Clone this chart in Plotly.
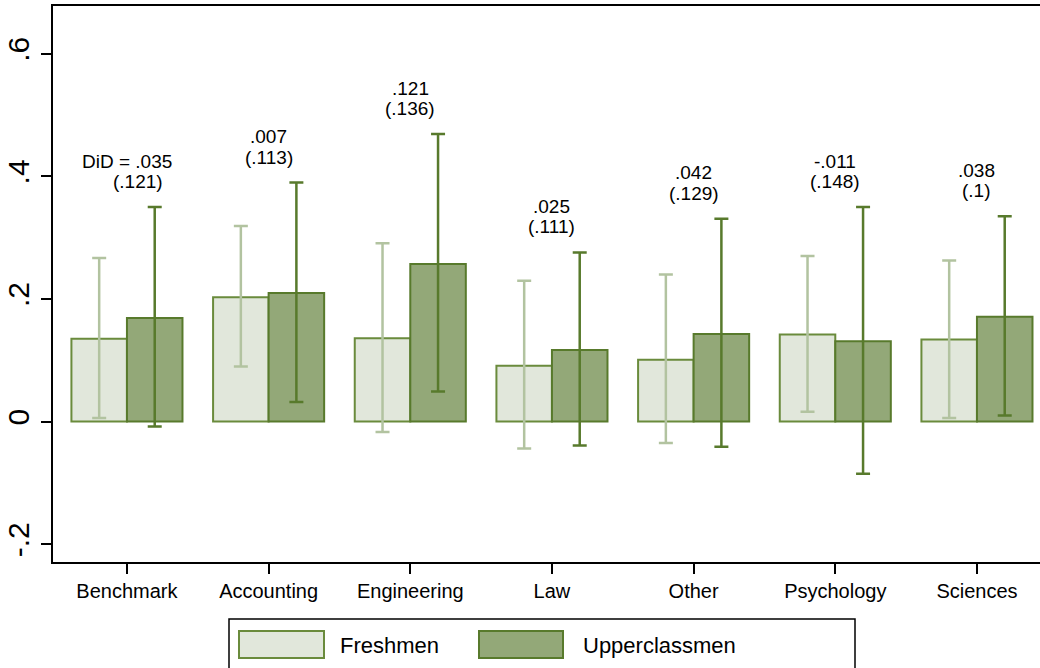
import plotly.graph_objects as go

categories = ["Benchmark", "Accounting", "Engineering", "Law", "Other", "Psychology", "Sciences"]
fresh_mean = [0.135, 0.203, 0.136, 0.091, 0.101, 0.142, 0.134]
fresh_lo = [0.006, 0.090, -0.017, -0.044, -0.035, 0.016, 0.006]
fresh_hi = [0.267, 0.319, 0.291, 0.230, 0.240, 0.270, 0.263]
upper_mean = [0.169, 0.210, 0.257, 0.117, 0.143, 0.131, 0.171]
upper_lo = [-0.008, 0.032, 0.049, -0.039, -0.041, -0.085, 0.010]
upper_hi = [0.350, 0.390, 0.469, 0.276, 0.331, 0.350, 0.335]
did_text = ["DiD = .035", ".007", ".121", ".025", ".042", "-.011", ".038"]
se_text = ["(.121)", "(.113)", "(.136)", "(.111)", "(.129)", "(.148)", "(.1)"]
ytick_vals = [-0.2, 0, 0.2, 0.4, 0.6]
ytick_text = ["-.2", "0", ".2", ".4", ".6"]

FONT = "Liberation Sans, Arial, Helvetica, sans-serif"
FRESH_FILL = "#e1e7db"
FRESH_LINE = "#6a8b3c"
FRESH_CI = "#b2c3a0"
UP_FILL = "#93a878"
UP_LINE = "#587a2c"
UP_CI = "#587a2c"

W, H = 1040, 668
ML, MR, MT, MB = 53, 0, 6, 106

fig = go.Figure()
fig.add_trace(go.Bar(
    x=categories, y=fresh_mean, name="Freshmen",
    marker=dict(color=FRESH_FILL, line=dict(color=FRESH_LINE, width=2)),
    error_y=dict(type="data", symmetric=False,
                 array=[h - m for h, m in zip(fresh_hi, fresh_mean)],
                 arrayminus=[m - l for l, m in zip(fresh_lo, fresh_mean)],
                 color=FRESH_CI, thickness=2.5, width=7),
))
fig.add_trace(go.Bar(
    x=categories, y=upper_mean, name="Upperclassmen",
    marker=dict(color=UP_FILL, line=dict(color=UP_LINE, width=2)),
    error_y=dict(type="data", symmetric=False,
                 array=[h - m for h, m in zip(upper_hi, upper_mean)],
                 arrayminus=[m - l for l, m in zip(upper_lo, upper_mean)],
                 color=UP_CI, thickness=2.5, width=7),
))

annotations = []
for i, cat in enumerate(categories):
    top = max(fresh_hi[i], upper_hi[i])
    annotations.append(dict(x=cat, y=top, text=did_text[i], showarrow=False,
                            yanchor="middle", yshift=46, xanchor="center",
                            font=dict(family=FONT, size=19, color="black")))
    annotations.append(dict(x=cat, y=top, text=se_text[i], showarrow=False,
                            yanchor="middle", yshift=25.5, xanchor="center",
                            xshift=11 if i == 0 else 0,
                            font=dict(family=FONT, size=19, color="black")))

# manual legend (pixel -> paper conversion)
PW = W - ML - MR
PH = H - MT - MB
def px(x):
    return (x - ML) / PW
def py(y):
    return (H - MB - y) / PH

shapes = [
    dict(type="rect", xref="paper", yref="paper", x0=px(229), x1=px(855), y0=py(675), y1=py(619),
         line=dict(color="black", width=1.5), fillcolor="white", layer="above"),
    dict(type="rect", xref="paper", yref="paper", x0=px(239), x1=px(324), y0=py(658), y1=py(631),
         line=dict(color=FRESH_LINE, width=2), fillcolor=FRESH_FILL, layer="above"),
    dict(type="rect", xref="paper", yref="paper", x0=px(479), x1=px(563), y0=py(658), y1=py(631),
         line=dict(color=UP_LINE, width=2), fillcolor=UP_FILL, layer="above"),
]
annotations.append(dict(xref="paper", yref="paper", x=px(338), y=py(645), text="Freshmen",
                        showarrow=False, xanchor="left", yanchor="middle",
                        font=dict(family=FONT, size=22, color="black")))
annotations.append(dict(xref="paper", yref="paper", x=px(581), y=py(645), text="Upperclassmen",
                        showarrow=False, xanchor="left", yanchor="middle",
                        font=dict(family=FONT, size=22, color="black")))

fig.update_layout(
    width=W, height=H,
    margin=dict(l=ML, r=MR, t=MT, b=MB, pad=0, autoexpand=False),
    paper_bgcolor="white", plot_bgcolor="white",
    barmode="group", bargap=0.216, bargroupgap=0,
    showlegend=False,
    annotations=annotations,
    shapes=shapes,
    font=dict(family=FONT, color="black"),
)
fig.update_xaxes(
    type="category", range=[-0.522, 6.445], automargin=False,
    showline=True, linecolor="black", linewidth=2, mirror=True,
    ticks="outside", ticklen=10, tickwidth=1.5, tickcolor="black",
    showgrid=False, zeroline=False,
    tickfont=dict(family=FONT, size=20, color="black"),
)
fig.update_yaxes(
    range=[-0.229, 0.678], automargin=False,
    tickvals=ytick_vals, ticktext=ytick_text, tickangle=-90,
    showline=True, linecolor="black", linewidth=2, mirror=False,
    ticks="outside", ticklen=10, tickwidth=1.5, tickcolor="black",
    showgrid=False, zeroline=False,
    tickfont=dict(family=FONT, size=30, color="black"),
)

fig.write_html(
    "out.html",
    config={"displayModeBar": False},
    post_script="document.body.style.margin='0';document.body.style.overflow='hidden';",
)
